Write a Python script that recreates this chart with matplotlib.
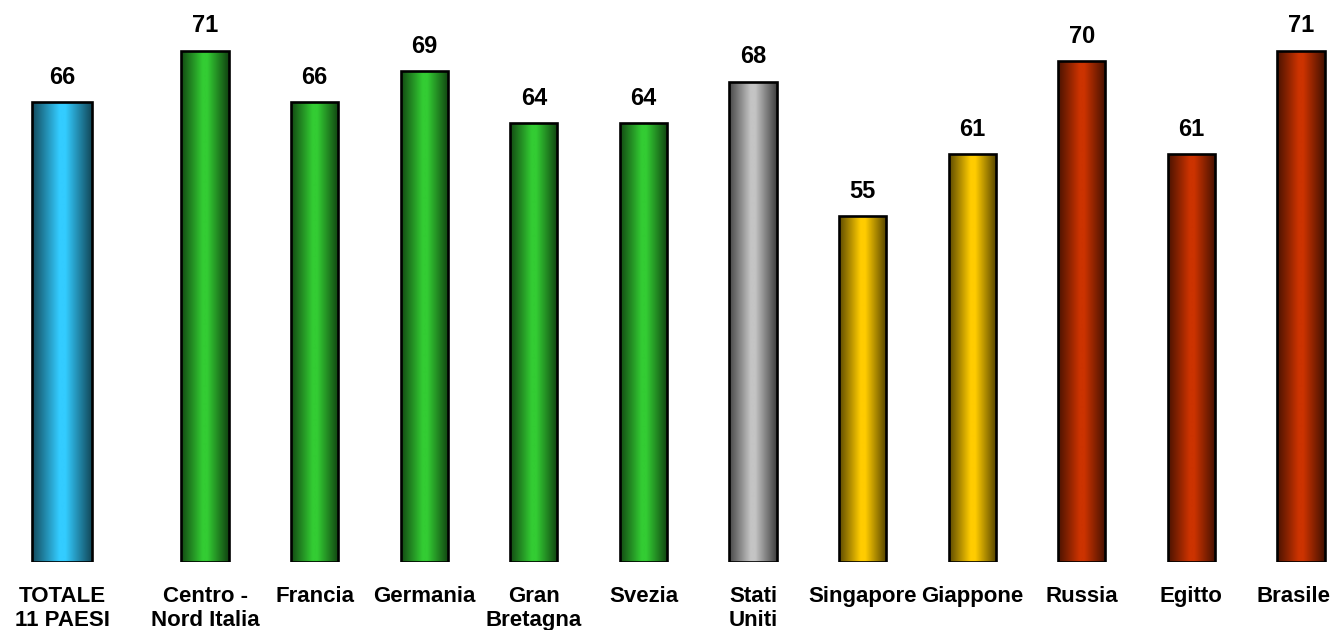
import numpy as np
import matplotlib
matplotlib.use('Agg')
import matplotlib.pyplot as plt
from matplotlib.colors import LinearSegmentedColormap, to_rgb
from matplotlib.transforms import ScaledTranslation

plt.rcParams['font.family'] = ['Liberation Sans', 'DejaVu Sans']

# data
labels = ['TOTALE\n11 PAESI', 'Centro -\nNord Italia', 'Francia', 'Germania', 'Gran\nBretagna',
          'Svezia', 'Stati\nUniti', 'Singapore', 'Giappone', 'Russia', 'Egitto', 'Brasile']
values = [66, 71, 66, 69, 64, 64, 68, 55, 61, 70, 61, 71]
groups = ['totale', 'europa', 'europa', 'europa', 'europa', 'europa',
          'usa', 'asia', 'asia', 'emergenti', 'emergenti', 'emergenti']

group_colors = {
    'totale': '#33CCFF',
    'europa': '#33CC33',
    'usa': '#C4C4C4',
    'asia': '#FFCC00',
    'emergenti': '#CC3300',
}

ymin, ymax = 21.6, 75.9
gap = 0.305  # extra space between total and countries

x = np.array([0.0] + [i + gap for i in range(1, len(values))])
widths = [0.55] + [0.43] * (len(values) - 1)

fig = plt.figure(figsize=(13.3, 6.3), dpi=100)
ax = fig.add_axes([0, 1 - 562 / 630, 1, 562 / 630])

grad = np.linspace(0, 1, 256).reshape(1, -1)
for xi, v, w, g in zip(x, values, widths, groups):
    light = np.array(to_rgb(group_colors[g]))
    dark = light * 0.36
    cmap = LinearSegmentedColormap.from_list(
        g, [(0, dark), (0.45, light), (0.55, light), (1, dark * 0.9)])
    bar = ax.bar(xi, v - ymin, bottom=ymin, width=w, facecolor='none',
                 edgecolor='black', linewidth=1.9, zorder=3)[0]
    im = ax.imshow(grad, cmap=cmap, extent=[xi - w / 2, xi + w / 2, ymin, v],
                   aspect='auto', zorder=2, interpolation='bilinear')
    im.set_clip_path(bar)
    ax.text(xi, v + 1.3, str(v), ha='center', va='bottom',
            fontsize=17, fontweight='bold')

ax.set_xlim(-62 / 109.6, (1330 - 62) / 109.6)
ax.set_ylim(ymin, ymax)
ax.set_xticks(x)
ax.set_xticklabels(labels, fontsize=16, fontweight='bold')
ax.tick_params(axis='x', length=0, pad=17)
ax.set_yticks([])
for s in ax.spines.values():
    s.set_visible(False)

# pull the last label in so it stays on the canvas
last = ax.get_xticklabels()[-1]
last.set_transform(last.get_transform() + ScaledTranslation(-8 / 100, 0, fig.dpi_scale_trans))

fig.savefig('out.png', dpi=100)
